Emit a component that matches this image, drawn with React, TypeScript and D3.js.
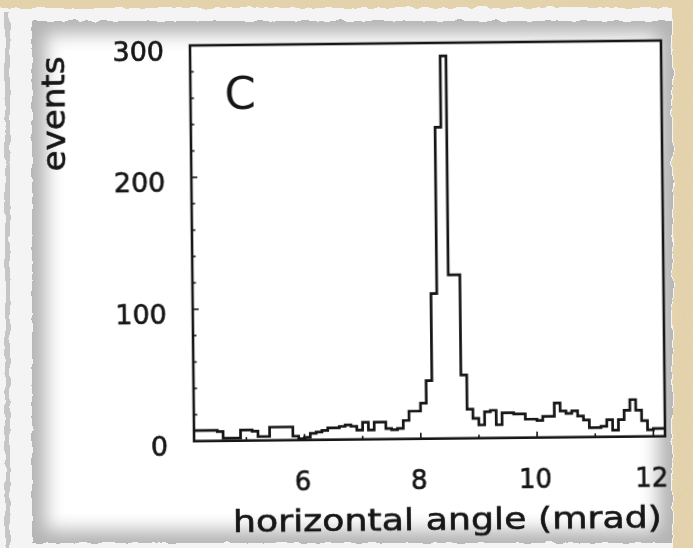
import React from "react";
import * as d3 from "d3";

// ---- data ----
const BIN_START = 4.1; // mrad
const BIN_WIDTH = 0.1; // mrad
const counts: number[] = [
  8, 8, 8, 8, 7, 2, 2, 2, 8, 8, 7, 3, 3, 10, 10, 10, 10, 3, 1, 2, 5, 6,
  7, 9, 9, 10, 11, 10, 7, 13, 7, 13, 13, 8, 7, 8, 14, 21, 21, 27, 44, 110,
  236, 290, 124, 124, 48, 22, 15, 10, 20, 21, 10, 19, 19, 18, 18, 14, 14, 13,
  16, 16, 26, 20, 18, 20, 16, 13, 7, 7, 8, 13, 5, 13, 20, 28, 20, 12, 5, 6, 6,
];
const xDomain: [number, number] = [4.1, 12.2];
const yDomain: [number, number] = [0, 300];
const xTickLabels = [6, 8, 10, 12];
const xTickValues = [5, 6, 7, 8, 9, 10, 11, 12];
const yTickLabels = [0, 100, 200, 300];
const yMinorStep = 20;
const panelLabel = "C";
const xTitle = "horizontal angle (mrad)";
const yTitle = "events";

const W = 693;
const H = 548;
const plot = { left: 192, right: 663, top: 43, bottom: 438.7 };
const ink = "#141414";
const font = "'DejaVu Sans', Verdana, sans-serif";

export default function App() {
  const x = d3.scaleLinear().domain(xDomain).range([plot.left, plot.right]);
  const y = d3.scaleLinear().domain(yDomain).range([plot.bottom, plot.top]);

  const pts: [number, number][] = counts.map((c, i) => [BIN_START + i * BIN_WIDTH, c]);
  pts.push([BIN_START + counts.length * BIN_WIDTH, counts[counts.length - 1]]);
  const line = d3
    .line<[number, number]>()
    .x((d) => x(d[0]))
    .y((d) => y(d[1]))
    .curve(d3.curveStepAfter);

  const yMinor = d3.range(yDomain[0], yDomain[1] + 1, yMinorStep);
  const textStroke = { stroke: ink, strokeWidth: 0.6 };

  return (
    <svg
      width={W}
      height={H}
      viewBox={`0 0 ${W} ${H}`}
      style={{ position: "fixed", left: 0, top: 0, display: "block" }}
    >
      <defs>
        <filter id="torn" x="-5%" y="-5%" width="110%" height="110%">
          <feTurbulence type="fractalNoise" baseFrequency="0.09" numOctaves="2" seed="3" result="n" />
          <feDisplacementMap in="SourceGraphic" in2="n" scale="6" xChannelSelector="R" yChannelSelector="G" />
        </filter>
        <filter id="vig" x="-10%" y="-10%" width="120%" height="120%">
          <feGaussianBlur stdDeviation="9" />
        </filter>
        <filter id="soft" x="-5%" y="-5%" width="110%" height="110%">
          <feGaussianBlur stdDeviation="0.45" />
        </filter>
        <filter id="grain" x="0" y="0" width="100%" height="100%">
          <feTurbulence type="fractalNoise" baseFrequency="0.6" numOctaves="2" seed="8" result="t" />
          <feColorMatrix
            in="t"
            type="matrix"
            values="0 0 0 0 0.55  0 0 0 0 0.45  0 0 0 0 0.25  0 0 0 0.22 0"
            result="c"
          />
          <feComposite in="c" in2="SourceGraphic" operator="in" result="m" />
          <feMerge>
            <feMergeNode in="SourceGraphic" />
            <feMergeNode in="m" />
          </feMerge>
        </filter>
      </defs>

      {/* background: beige board and white paper */}
      <rect x={0} y={0} width={W} height={H} fill="#e7d6b0" filter="url(#grain)" />
      <rect x={-10} y={8} width={683} height={H} fill="#f4f4f4" filter="url(#torn)" />
      <rect x={5} y={12} width={5} height={H} fill="#c6c6c6" filter="url(#torn)" />

      {/* card with vignette */}
      <rect x={32} y={21} width={640} height={522} fill="#b4b4b4" filter="url(#torn)" />
      <rect x={46} y={34} width={612} height={496} fill="#ffffff" filter="url(#vig)" />
      <rect x={64} y={50} width={576} height={464} fill="#ffffff" />

      <g transform="rotate(-0.6 427 240)" filter="url(#soft)">
        {/* frame */}
        <rect
          x={plot.left}
          y={plot.top}
          width={plot.right - plot.left}
          height={plot.bottom - plot.top}
          fill="#ffffff"
          stroke={ink}
          strokeWidth={2.6}
        />

        {/* y ticks (inward) */}
        {yMinor.map((v) => (
          <line
            key={`yt${v}`}
            x1={plot.left}
            x2={plot.left + (v % 100 === 0 ? 6 : 3.5)}
            y1={y(v)}
            y2={y(v)}
            stroke={ink}
            strokeWidth={1.6}
          />
        ))}
        {/* x ticks (inward) */}
        {xTickValues.map((v) => (
          <line
            key={`xt${v}`}
            x1={x(v)}
            x2={x(v)}
            y1={plot.bottom}
            y2={plot.bottom - (v % 2 === 0 ? 6 : 3.5)}
            stroke={ink}
            strokeWidth={1.6}
          />
        ))}

        {/* histogram */}
        <path d={line(pts) || ""} fill="none" stroke={ink} strokeWidth={2.7} strokeLinejoin="miter" />

        {/* tick labels */}
        {yTickLabels.map((v) => (
          <text
            key={`yl${v}`}
            x={166}
            y={y(v) + 5}
            textAnchor="end"
            dominantBaseline="central"
            fontFamily={font}
            fontSize={27}
            fill={ink}
            {...textStroke}
          >
            {v}
          </text>
        ))}
        {xTickLabels.map((v) => (
          <text
            key={`xl${v}`}
            x={x(v) - 2}
            y={479.5}
            textAnchor="middle"
            dominantBaseline="central"
            fontFamily={font}
            fontSize={26}
            fill={ink}
            {...textStroke}
          >
            {v}
          </text>
        ))}

        {/* titles */}
        <text
          x={444.5}
          y={530}
          textAnchor="middle"
          fontFamily={font}
          fontSize={31}
          fill={ink}
          textLength={429}
          lengthAdjust="spacingAndGlyphs"
          {...textStroke}
        >
          {xTitle}
        </text>
        <text
          transform="translate(66 110) rotate(-90)"
          textAnchor="middle"
          fontFamily={font}
          fontSize={32}
          fill={ink}
          textLength={115}
          lengthAdjust="spacingAndGlyphs"
          {...textStroke}
        >
          {yTitle}
        </text>
        <text x={226} y={107} fontFamily={font} fontSize={45} fill={ink}>
          {panelLabel}
        </text>
      </g>
    </svg>
  );
}
